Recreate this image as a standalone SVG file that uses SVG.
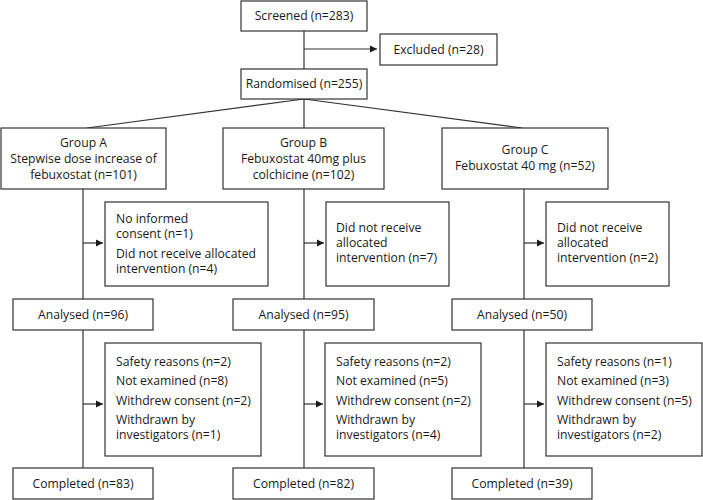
<svg xmlns="http://www.w3.org/2000/svg" width="703" height="500" viewBox="0 0 703 500">
<defs>
<style>
.box{fill:#fff;stroke:#333;stroke-width:1.2}
.ln{fill:none;stroke:#333;stroke-width:1.2}
text{font-family:"Open Sans","Noto Sans",sans-serif;font-size:12.2px;fill:#1a1a1a}
.c{text-anchor:middle}
</style>
<marker id="ah" markerWidth="8" markerHeight="8" refX="7" refY="4" orient="auto" markerUnits="userSpaceOnUse">
<path d="M0,0.5 L7,4 L0,7.5 Z" fill="#1a1a1a"/>
</marker>
</defs>
<rect width="703" height="500" fill="#fff"/>
<g id="connectors">
<path class="ln" d="M304,31 V69"/>
<path class="ln" d="M304,49 H377" marker-end="url(#ah)"/>
<path class="ln" d="M304,99 L87,128"/>
<path class="ln" d="M304,99 V128"/>
<path class="ln" d="M304,99 L522,128"/>
<path class="ln" d="M83,189 V299"/>
<path class="ln" d="M304,189 V299"/>
<path class="ln" d="M524,189 V299"/>
<path class="ln" d="M83,243 H103" marker-end="url(#ah)"/>
<path class="ln" d="M304,243 H324" marker-end="url(#ah)"/>
<path class="ln" d="M524,243 H544" marker-end="url(#ah)"/>
<path class="ln" d="M83,330 V468"/>
<path class="ln" d="M304,330 V468"/>
<path class="ln" d="M524,330 V468"/>
<path class="ln" d="M83,404 H103" marker-end="url(#ah)"/>
<path class="ln" d="M304,404 H323" marker-end="url(#ah)"/>
<path class="ln" d="M524,404 H544" marker-end="url(#ah)"/>
</g>
<g id="screened"><rect class="box" x="241" y="1" width="126" height="30"/><text class="c" x="304" y="20">Screened (n=283)</text></g>
<g id="excluded"><rect class="box" x="380" y="34" width="117" height="31"/><text class="c" x="438.5" y="54">Excluded (n=28)</text></g>
<g id="randomised"><rect class="box" x="241" y="69" width="126" height="30"/><text class="c" x="304" y="88">Randomised (n=255)</text></g>
<g id="groupA"><rect class="box" x="1" y="128" width="165" height="61"/><text class="c" x="83.5" y="147">Group A</text><text class="c" x="83.5" y="163">Stepwise dose increase of</text><text class="c" x="83.5" y="179">febuxostat (n=101)</text></g>
<g id="groupB"><rect class="box" x="223" y="128" width="161" height="61"/><text class="c" x="303.5" y="147">Group B</text><text class="c" x="303.5" y="163">Febuxostat 40mg plus</text><text class="c" x="303.5" y="179">colchicine (n=102)</text></g>
<g id="groupC"><rect class="box" x="442" y="128" width="166" height="61"/><text class="c" x="525" y="154">Group C</text><text class="c" x="525" y="170">Febuxostat 40 mg (n=52)</text></g>
<g id="exclA"><rect class="box" x="105" y="202" width="163" height="84"/><text x="116" y="223">No informed</text><text x="116" y="238">consent (n=1)</text><text x="116" y="258">Did not receive allocated</text><text x="116" y="273">intervention (n=4)</text></g>
<g id="exclB"><rect class="box" x="326" y="202" width="123" height="84"/><text x="336" y="232">Did not receive</text><text x="336" y="247">allocated</text><text x="336" y="262">intervention (n=7)</text></g>
<g id="exclC"><rect class="box" x="546" y="202" width="123" height="84"/><text x="557" y="232">Did not receive</text><text x="557" y="247">allocated</text><text x="557" y="262">intervention (n=2)</text></g>
<g id="analysedA"><rect class="box" x="13" y="299" width="140" height="31"/><text class="c" x="83" y="319">Analysed (n=96)</text></g>
<g id="analysedB"><rect class="box" x="233" y="299" width="141" height="31"/><text class="c" x="303.5" y="319">Analysed (n=95)</text></g>
<g id="analysedC"><rect class="box" x="452" y="299" width="140" height="31"/><text class="c" x="522" y="319">Analysed (n=50)</text></g>
<g id="withA"><rect class="box" x="105" y="343" width="156" height="113"/><text x="116" y="366">Safety reasons (n=2)</text><text x="116" y="385">Not examined (n=8)</text><text x="116" y="405">Withdrew consent (n=2)</text><text x="116" y="424">Withdrawn by</text><text x="116" y="439">investigators (n=1)</text></g>
<g id="withB"><rect class="box" x="325" y="343" width="156" height="113"/><text x="336" y="366">Safety reasons (n=2)</text><text x="336" y="385">Not examined (n=5)</text><text x="336" y="405">Withdrew consent (n=2)</text><text x="336" y="424">Withdrawn by</text><text x="336" y="439">investigators (n=4)</text></g>
<g id="withC"><rect class="box" x="546" y="343" width="156" height="113"/><text x="557" y="366">Safety reasons (n=1)</text><text x="557" y="385">Not examined (n=3)</text><text x="557" y="405">Withdrew consent (n=5)</text><text x="557" y="424">Withdrawn by</text><text x="557" y="439">investigators (n=2)</text></g>
<g id="completedA"><rect class="box" x="13" y="468" width="140" height="31"/><text class="c" x="83" y="488">Completed (n=83)</text></g>
<g id="completedB"><rect class="box" x="233" y="468" width="141" height="31"/><text class="c" x="303.5" y="488">Completed (n=82)</text></g>
<g id="completedC"><rect class="box" x="452" y="468" width="140" height="31"/><text class="c" x="522" y="488">Completed (n=39)</text></g>
</svg>
